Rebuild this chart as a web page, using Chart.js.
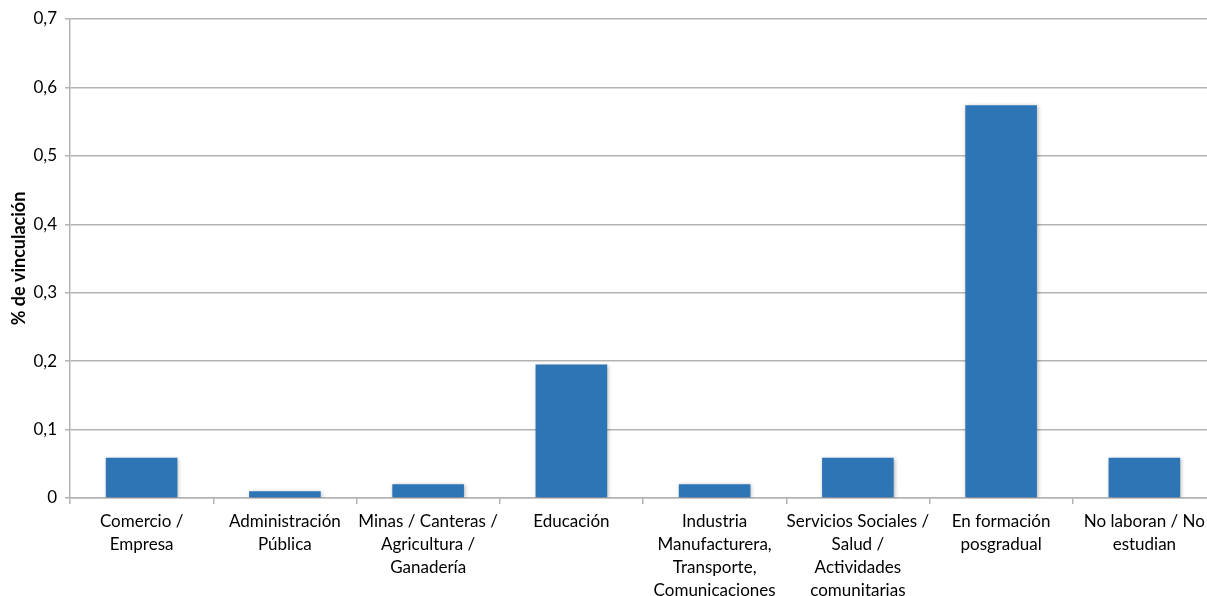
<!DOCTYPE html>
<html>
<head>
<meta charset="utf-8">
<script src="https://cdn.jsdelivr.net/npm/chart.js@4.4.1/dist/chart.umd.min.js"></script>
<style>
    html, body { margin: 0; padding: 0; background: #fff; overflow: hidden; }
    #wrap { position: relative; width: 1217px; height: 596px; }
</style>
</head>
<body>
<div id="wrap"><canvas id="vinculacionChart"></canvas></div>
<script>
// categorías (cada línea del rótulo por separado)
const categorias = [
    ['Comercio /', 'Empresa'],
    ['Administración', 'Pública'],
    ['Minas / Canteras /', 'Agricultura /', 'Ganadería'],
    ['Educación'],
    ['Industria', 'Manufacturera,', 'Transporte,', 'Comunicaciones'],
    ['Servicios Sociales /', 'Salud /', 'Actividades', 'comunitarias'],
    ['En formación', 'posgradual'],
    ['No laboran / No', 'estudian']
];
const vinculacion = [0.059, 0.01, 0.02, 0.195, 0.02, 0.059, 0.574, 0.059];
const ticksY = [0, 0.1, 0.2, 0.3, 0.4, 0.5, 0.6, 0.7];

const fuente = 'Lato, "Open Sans", sans-serif';

// sombra suave bajo las barras
const sombraBarras = {
    id: 'sombraBarras',
    beforeDatasetsDraw(chart) {
        const ctx = chart.ctx;
        ctx.save();
        ctx.shadowColor = 'rgba(0, 0, 0, 0.3)';
        ctx.shadowBlur = 4;
        ctx.shadowOffsetX = 1;
        ctx.shadowOffsetY = 1;
    },
    afterDatasetsDraw(chart) {
        chart.ctx.restore();
    }
};

document.addEventListener('DOMContentLoaded', function () {
    const ctx = document.getElementById('vinculacionChart');
    new Chart(ctx, {
        type: 'bar',
        data: {
            labels: categorias,
            datasets: [{
                data: vinculacion,
                backgroundColor: '#2e75b6',
                borderWidth: 0,
                barPercentage: 0.5,
                categoryPercentage: 1
            }]
        },
        options: {
            responsive: true,
            maintainAspectRatio: false,
            animation: false,
            layout: { padding: { top: 19, right: 1, left: 0, bottom: 0 } },
            plugins: {
                legend: { display: false },
                tooltip: { enabled: false }
            },
            scales: {
                x: {
                    grid: {
                        offset: true,
                        drawOnChartArea: false,
                        color: '#b3b3b3',
                        lineWidth: 1.5,
                        tickLength: 6
                    },
                    border: { color: '#b3b3b3', width: 1.5 },
                    ticks: {
                        color: '#000',
                        font: { family: fuente, size: 17, lineHeight: 1.35 },
                        padding: 6,
                        maxRotation: 0,
                        autoSkip: false
                    },
                    afterFit: function (scale) { scale.height = 98; }
                },
                y: {
                    min: 0,
                    max: 0.7,
                    afterBuildTicks: function (scale) {
                        scale.ticks = ticksY.map(v => ({ value: v }));
                    },
                    grid: {
                        color: '#b3b3b3',
                        lineWidth: 1.5,
                        tickLength: 5
                    },
                    border: { color: '#b3b3b3', width: 1.5 },
                    ticks: {
                        color: '#000',
                        font: { family: fuente, size: 17 },
                        padding: 8,
                        callback: v => String(+v.toFixed(1)).replace('.', ',')
                    },
                    title: {
                        display: true,
                        text: '% de vinculación',
                        color: '#000',
                        font: { family: fuente, size: 18, weight: 'bold' },
                        padding: { top: 8, bottom: 0 }
                    },
                    afterFit: function (scale) { scale.width = 70; }
                }
            }
        },
        plugins: [sombraBarras]
    });
});
</script>
</body>
</html>
